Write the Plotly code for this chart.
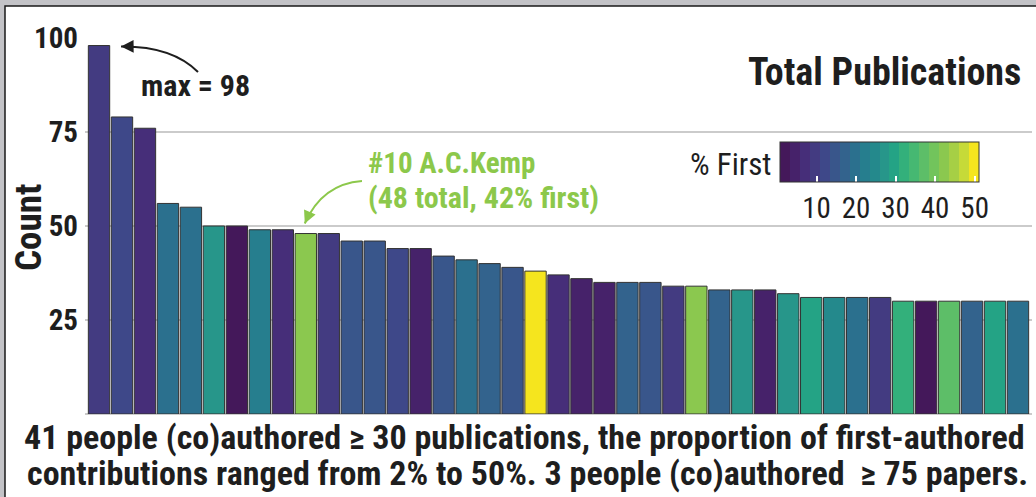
import plotly.graph_objects as go

# ---------------- data ----------------
rank = list(range(1, 42))
total_pubs = [98, 79, 76, 56, 55, 50, 50, 49, 49, 48, 48, 46, 46, 44, 44, 42, 41, 40, 39, 38,
              37, 36, 35, 35, 35, 34, 34, 33, 33, 33, 32, 31, 31, 31, 31, 30, 30, 30, 30, 30, 30]
pct_first = [9, 12, 7, 19, 20, 27, 2, 23, 7, 42, 10, 15, 15, 12, 5, 15, 19, 17, 15, 50,
             7, 4, 5, 17, 15, 10, 42, 18, 27, 4, 27, 30, 25, 20, 10, 33, 2, 37, 17, 30, 20]
y_ticks = [25, 50, 75, 100]
cb_ticks = [10, 20, 30, 40, 50]
CB_MIN, CB_MAX = 0.76, 51.1
band_colors = ["#44185a", "#46226a", "#462e79", "#433b81", "#3e4889", "#39568b", "#33638d",
               "#2b708e", "#267e8e", "#24898c", "#27968a", "#24a385", "#33b07b", "#46b872",
               "#5dbe68", "#72c45c", "#8bc84f", "#a6cf45", "#c6da38", "#f5e51e"]

highlight_idx = 9  # #10 A.C.Kemp

# ---------------- layout geometry ----------------
W, H = 1036, 497
PL, PR, PT, PB = 85, 1032, 38, 414
XMIN, XMAX = -0.61, 40.61

def pxx(px):
    return (px - PL) / (PR - PL)

def pxy(py):
    return (PB - py) / (PB - PT)

def x_to_px(i):
    return PL + (i - XMIN) * (PR - PL) / (XMAX - XMIN)

def y_to_px(v):
    return PB - v * (PB - PT) / 100.0

# stepped colorscale
n = len(band_colors)
colorscale = []
for i, c in enumerate(band_colors):
    colorscale.append([i / n, c])
    colorscale.append([(i + 1) / n, c])

NARROW = "Roboto Condensed, Liberation Sans Narrow, Arial Narrow, sans-serif"
TXT = "#1e1e1e"
GREEN = "#8cc84b"

CB_X0, CB_X1, CB_Y0, CB_Y1 = 780, 979, 142, 182

fig = go.Figure()
fig.add_trace(go.Bar(
    x=list(range(len(total_pubs))),
    y=total_pubs,
    marker=dict(
        color=pct_first, colorscale=colorscale, cmin=CB_MIN, cmax=CB_MAX,
        line=dict(color="#333333", width=1),
        showscale=True,
        colorbar=dict(
            orientation="h", lenmode="pixels", len=CB_X1 - CB_X0,
            thicknessmode="pixels", thickness=CB_Y1 - CB_Y0,
            x=pxx((CB_X0 + CB_X1) / 2), xanchor="center",
            y=pxy(CB_Y0), yanchor="top", xpad=0, ypad=0,
            outlinecolor="#333333", outlinewidth=1,
            tickvals=cb_ticks, ticks="inside", ticklen=6, tickwidth=1.5,
            tickcolor="white",
            tickfont=dict(family=NARROW, size=29, color=TXT),
        ),
    ),
    hoverinfo="skip",
))

fig.update_layout(
    width=W, height=H,
    margin=dict(l=PL, r=W - PR, t=PT, b=H - PB, pad=0),
    paper_bgcolor="#c3c3c7", plot_bgcolor="white",
    bargap=0.07, showlegend=False,
    xaxis=dict(range=[XMIN, XMAX], showticklabels=False, showgrid=False,
               zeroline=False, ticks=""),
    yaxis=dict(range=[0, 100], tickvals=y_ticks, showgrid=True, gridcolor="#cbcbcb",
               gridwidth=2, zeroline=True, zerolinecolor="#cbcbcb", zerolinewidth=2,
               ticks="", ticklabelstandoff=6,
               tickfont=dict(family=NARROW, size=29, color=TXT, weight="bold")),
)

# white frame panel with dark top/left edges
fig.add_shape(type="rect", xref="paper", yref="paper",
              x0=pxx(5), x1=pxx(W + 20), y0=pxy(H + 20), y1=pxy(6),
              fillcolor="white", line=dict(color="#1a1a1a", width=1.5), layer="below")

# colorbar top white tick marks
for v in cb_ticks:
    cx = CB_X0 + (v - CB_MIN) / (CB_MAX - CB_MIN) * (CB_X1 - CB_X0)
    fig.add_shape(type="line", xref="paper", yref="paper",
                  x0=pxx(cx), x1=pxx(cx), y0=pxy(CB_Y0 + 1), y1=pxy(CB_Y0 + 6),
                  line=dict(color="white", width=1.5))

def ann(text, px, py, size, color=TXT, bold=True, xanchor="center", yanchor="middle", angle=0):
    fig.add_annotation(text=text, xref="paper", yref="paper", x=pxx(px), y=pxy(py),
                       xanchor=xanchor, yanchor=yanchor, showarrow=False, textangle=angle,
                       borderpad=0,
                       font=dict(family=NARROW, size=size, color=color,
                                 weight="bold" if bold else "normal"))

ann("Count", 29, 228, 37, angle=-90)
ann("Total Publications", 1022, 72, 38, xanchor="right")
ann("% First", 773, 164, 31, bold=False, xanchor="right")
ann(f"max = {max(total_pubs)}", 195, 86, 30)
ann(f"#{highlight_idx + 1} A.C.Kemp", 367, 163, 29, color=GREEN, xanchor="left")
ann(f"({total_pubs[highlight_idx]} total, {pct_first[highlight_idx]}% first)", 367, 197, 30,
    color=GREEN, xanchor="left")
ann(f"{len(total_pubs)} people (co)authored ≥ 30 publications, the proportion of first-authored",
    524, 437, 34)
ann(f"contributions ranged from {min(pct_first)}% to {max(pct_first)}%. "
    f"3 people (co)authored  ≥ 75 papers.", 527, 473, 34)

# curved arrows
def curve(p0, c, p1, color):
    path = (f"M {pxx(p0[0])},{pxy(p0[1])} Q {pxx(c[0])},{pxy(c[1])} "
            f"{pxx(p1[0])},{pxy(p1[1])}")
    fig.add_shape(type="path", xref="paper", yref="paper", path=path,
                  line=dict(color=color, width=2))
    dx, dy = c[0] - p1[0], c[1] - p1[1]
    norm = (dx * dx + dy * dy) ** 0.5
    fig.add_annotation(xref="paper", yref="paper", x=pxx(p1[0]), y=pxy(p1[1]),
                       ax=dx / norm * 9, ay=dy / norm * 9, text="", showarrow=True,
                       arrowhead=2, arrowsize=1.4, arrowwidth=1.8, arrowcolor=color)

# max arrow: tip near right edge of the tallest bar's top
tip_max = (x_to_px(0) + 22, y_to_px(max(total_pubs)) + 1)
curve((198, 72), (172, 46), tip_max, "#1e1e1e")
# highlight arrow: tip above bar #10
tip_hl = (x_to_px(highlight_idx) - 1, y_to_px(total_pubs[highlight_idx]) - 10)
curve((362, 181), (322, 184), tip_hl, GREEN)

fig.write_html("out.html", config={"displayModeBar": False},
               post_script="document.body.style.margin='0';")
